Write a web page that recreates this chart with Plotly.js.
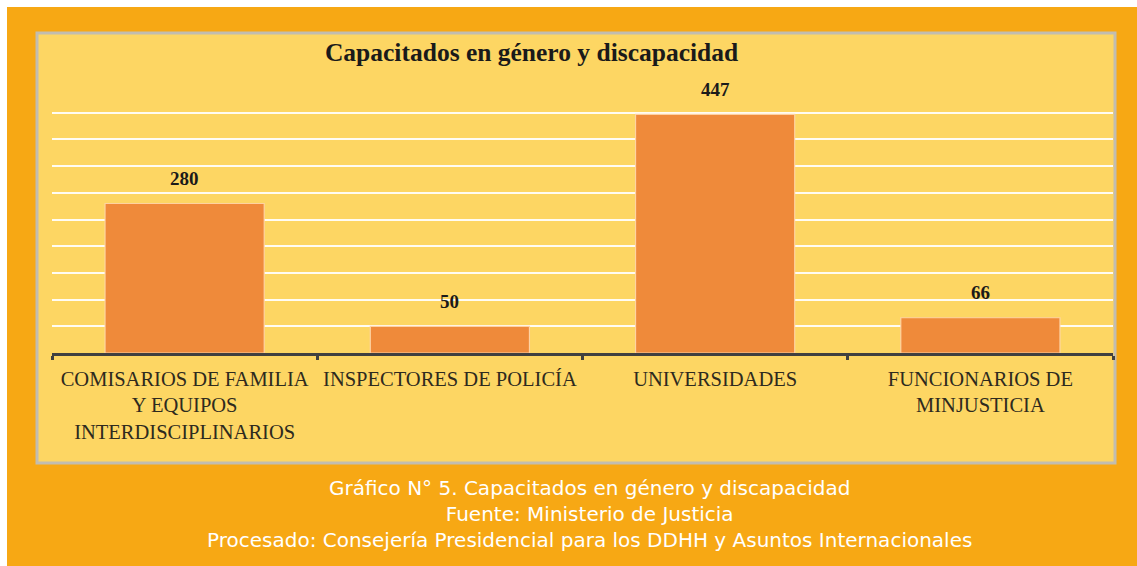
<!DOCTYPE html>
<html>
<head>
<meta charset="utf-8">
<script src="https://cdn.plot.ly/plotly-3.0.1.min.js"></script>
<style>
  html, body { margin: 0; padding: 0; background: #ffffff; }
  #chart { position: absolute; left: 7px; top: 7px; width: 1130px; height: 559px; }
</style>
</head>
<body>
<div id="chart"></div>
<script>
// Data
const categories = [
  "COMISARIOS DE FAMILIA<br>Y EQUIPOS<br>INTERDISCIPLINARIOS",
  "INSPECTORES DE POLICÍA",
  "UNIVERSIDADES",
  "FUNCIONARIOS DE<br>MINJUSTICIA"
];
const values = [280, 50, 447, 66];
const chartTitle = "Capacitados en género y discapacidad";
const captionLines = [
  "Gráfico N° 5. Capacitados en género y discapacidad",
  "Fuente: Ministerio de Justicia",
  "Procesado: Consejería Presidencial para los DDHH y Asuntos Internacionales"
];

const serif = "Liberation Serif, Times New Roman, serif";

const trace = {
  type: "bar",
  x: categories,
  y: values,
  marker: { color: "#EF8A3A", line: { color: "rgba(255,214,170,0.9)", width: 1.2 } },
  hoverinfo: "x+y"
};

const valueAnnotations = categories.map((c, i) => ({
  x: c, y: values[i], xref: "x", yref: "y",
  text: String(values[i]),
  showarrow: false, yanchor: "middle", yshift: 25,
  font: { family: serif, size: 19, color: "#1a1a1a", weight: "bold" }
}));

const captionAnnotation = {
  x: 0.507, y: -0.604, xref: "paper", yref: "paper",
  text: captionLines.join("<br>"), showarrow: false,
  xanchor: "center", yanchor: "middle", align: "center",
  font: { family: "DejaVu Sans, sans-serif", size: 20, color: "#ffffff" }
};

const layout = {
  width: 1130, height: 559,
  paper_bgcolor: "#F7A814",
  plot_bgcolor: "rgba(0,0,0,0)",
  margin: { l: 45, r: 24, t: 79, b: 213 },
  showlegend: false,
  bargap: 0.4,
  title: {
    text: "<b>" + chartTitle + "</b>",
    xref: "paper", x: 0.452, xanchor: "center",
    yref: "container", y: 0.9195, yanchor: "middle",
    font: { family: serif, size: 25.5, color: "#1a1a1a" }
  },
  xaxis: {
    type: "category",
    showline: true, linecolor: "#404040", linewidth: 3,
    ticks: "outside", tickson: "boundaries", ticklen: 4, tickwidth: 3, tickcolor: "#404040",
    showgrid: false,
    tickfont: { family: serif, size: 20.5, color: "#2e2a1e" },
    ticklabelstandoff: 5,
    tickangle: 0,
    automargin: false
  },
  yaxis: {
    range: [0, 500], dtick: 50,
    showgrid: true, gridcolor: "rgba(255,255,255,0.92)", gridwidth: 2,
    zeroline: false, showticklabels: false, ticks: "",
    showline: false, automargin: false
  },
  shapes: [{
    type: "rect", xref: "paper", yref: "paper",
    x0: -0.01414, x1: 1.0019, y0: -0.412, y1: 1.1985,
    fillcolor: "#FDD663",
    line: { color: "#C2BDB0", width: 3 },
    layer: "below"
  }],
  annotations: valueAnnotations.concat([captionAnnotation])
};

Plotly.newPlot("chart", [trace], layout, { displayModeBar: false, staticPlot: true });
</script>
</body>
</html>
